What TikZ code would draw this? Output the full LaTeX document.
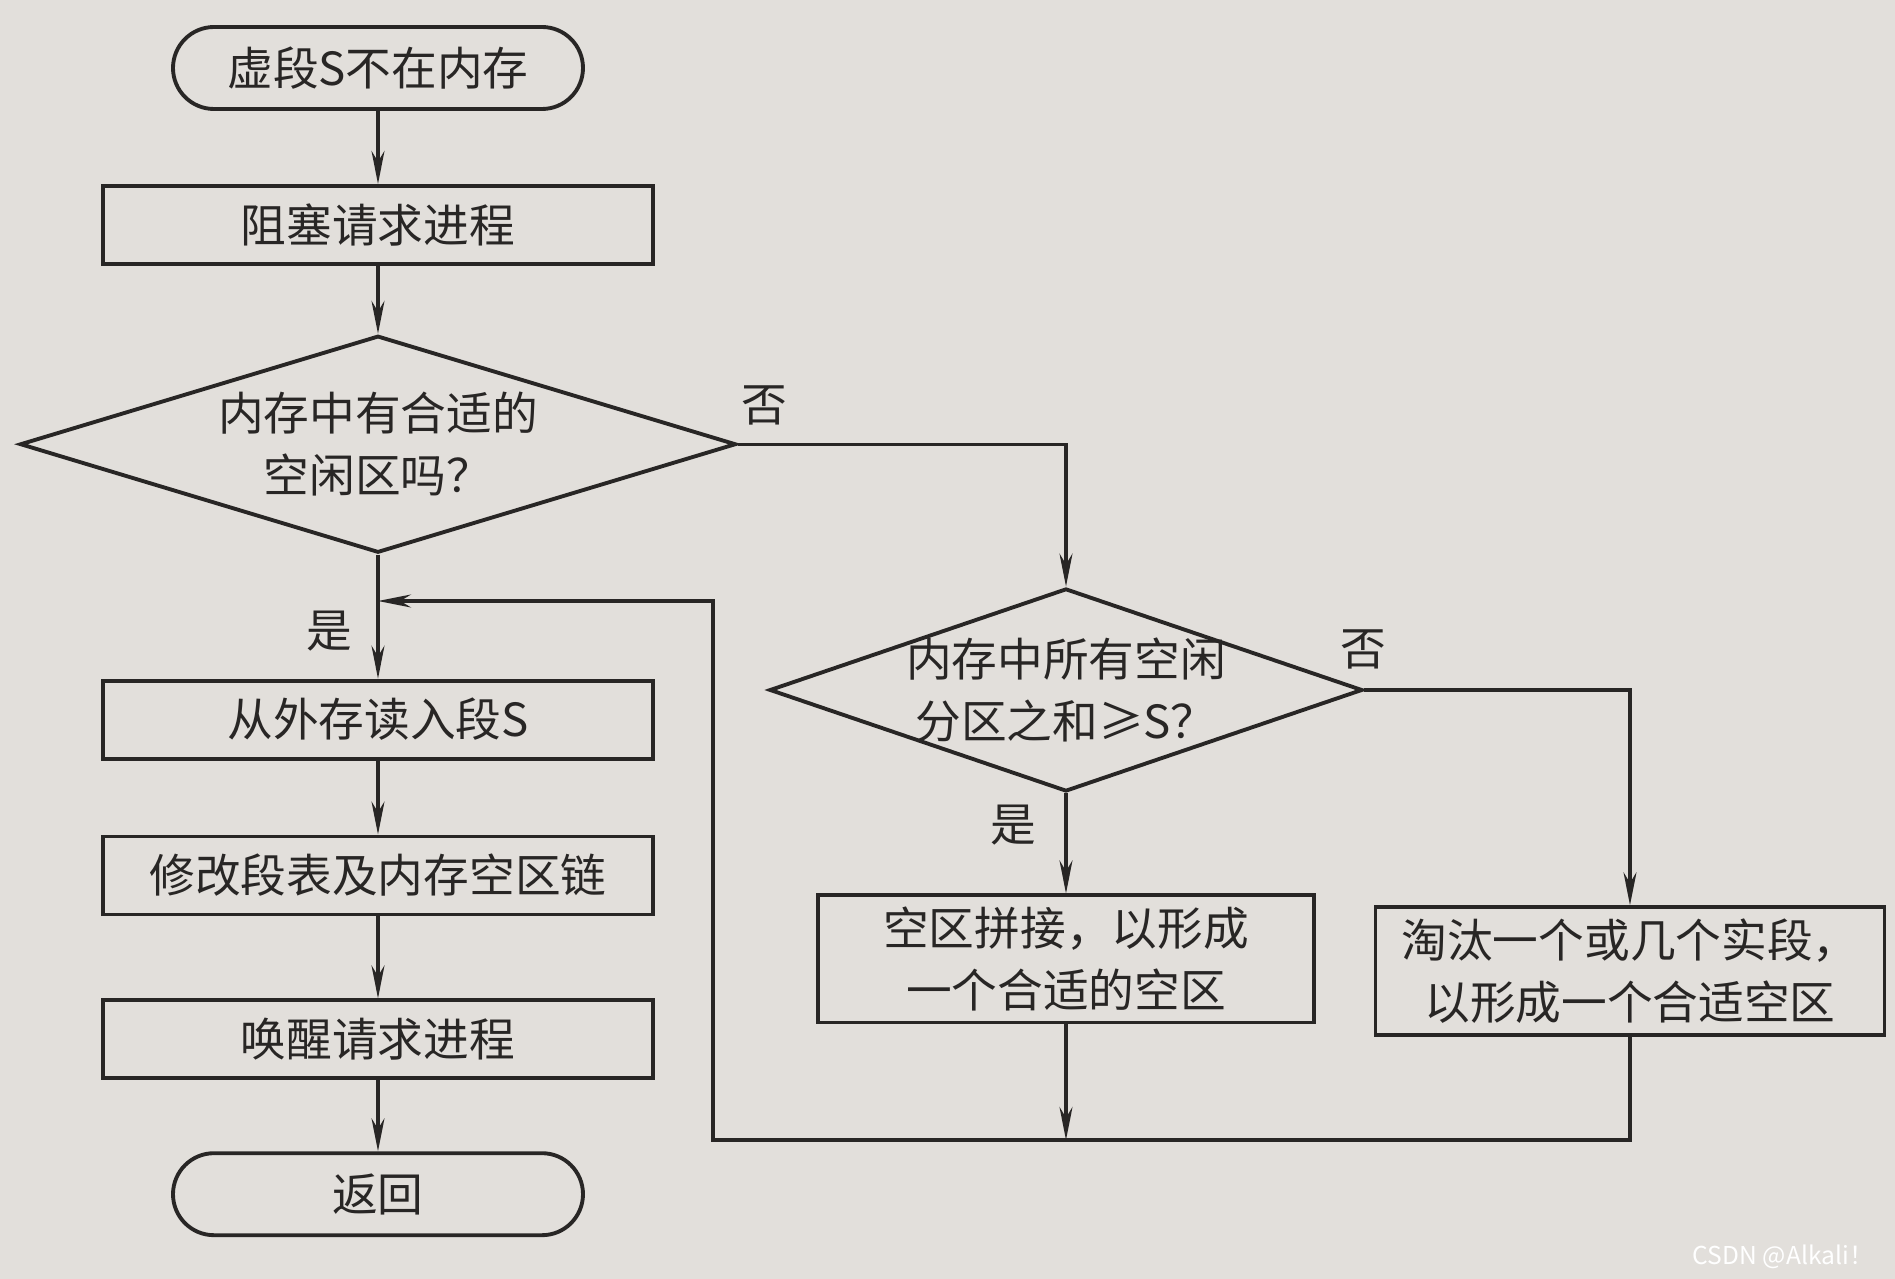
\documentclass[tikz,border=0pt]{standalone}
\usepackage{fontspec}
\newfontfamily\cjk{Noto Sans CJK SC}
\usetikzlibrary{positioning,shapes.geometric,arrows.meta}
\usepackage{xcolor}
\definecolor{paper}{RGB}{226,223,219}
\definecolor{ink}{RGB}{40,38,37}

\begin{document}
\begin{tikzpicture}[
  font=\cjk\fontsize{13pt}{17.5pt}\selectfont,
  node distance=0.74cm,
  terminal/.style={draw=ink, text=ink, line width=1.1pt, rounded corners=0.41cm, minimum width=4.1cm, minimum height=0.82cm, align=center},
  box/.style={draw=ink, text=ink, line width=1.1pt, minimum width=5.5cm, minimum height=0.78cm, align=center},
  decision/.style={diamond, draw=ink, text=ink, line width=1.1pt, aspect=3, inner sep=-0.3cm, align=center},
  arr/.style={-{Stealth[length=3.3mm,width=1.3mm]}, line width=0.9pt, draw=ink},
  lbl/.style={text=ink},
]

% Paper
\fill[paper] (0,0) rectangle (18.95,-12.79);
\useasboundingbox (0,0) rectangle (18.95,-12.79);

% Nodes top-to-bottom
\node[terminal] (start) at (3.78,-0.68) {虚段S不在内存};
\node[box, below=0.73cm of start] (block) {阻塞请求进程};
\node[decision, minimum width=7.16cm, minimum height=2.17cm, below=0.68cm of block] (gate1) {内存中有合适的\\空闲区吗？};
\node[box, below=1.24cm of gate1] (load) {从外存读入段S};
\node[box, below=of load] (update) {修改段表及内存空区链};
\node[box, below=0.82cm of update] (wake) {唤醒请求进程};
\node[terminal, below=0.71cm of wake] (ret) {返回};

% Right column
\node[decision, minimum width=5.93cm, minimum height=2.03cm] (gate2) at (10.66,-6.90) {内存中所有空闲\\分区之和≥S？};
\node[box, minimum width=4.96cm, minimum height=1.26cm, below=1.0cm of gate2] (compact) {空区拼接，以形成\\一个合适的空区};
\node[box, minimum width=5.09cm, minimum height=1.24cm] (evict) at (16.30,-9.71) {淘汰一个或几个实段，\\以形成一个合适空区};

% Corner points of the way back
\coordinate (loop) at (7.13,-11.40);
\coordinate (join) at (compact |- loop);
\coordinate (rejoin) at (3.78,-6.01);

% Arrows (main path)
\foreach \a/\b in {start/block, block/gate1, gate1/load, load/update, update/wake, wake/ret}
  \draw[arr] (\a) -- (\b);

% No branches
\draw[arr] (gate1.east) -| (gate2.north);
\draw[arr] (gate2.east) -| (evict.north);
\draw[arr] (gate2) -- (compact);

% Back to the main column
\draw[arr] (compact) -- (join);
\draw[arr] (evict.south) |- (loop) |- (rejoin);

% Yes / No labels
\node[lbl] (no1)  at (7.64,-4.05)  {否};
\node[lbl] (no2)  at (13.63,-6.49) {否};
\node[lbl] (yes1) at (3.29,-6.31)  {是};
\node[lbl] (yes2) at (10.13,-8.25) {是};

\node[text=white, anchor=east, font=\cjk\fontsize{7pt}{8pt}\selectfont] (mark) at (18.86,-12.57) {CSDN @Alkali！};

\end{tikzpicture}
\end{document}
